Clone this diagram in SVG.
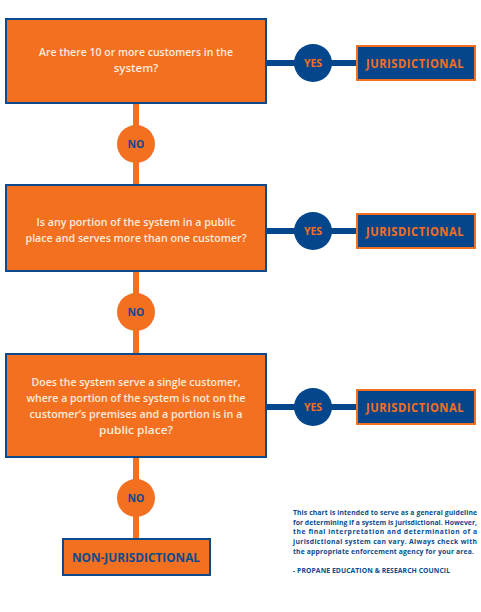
<svg xmlns="http://www.w3.org/2000/svg" width="481" height="612" viewBox="0 0 481 612">
<style>
.q{fill:#F37021;stroke:#0B4A8E;stroke-width:2}
.j{fill:#03468C;stroke:#F37021;stroke-width:2}
.nj{fill:#F37021;stroke:#0B4A8E;stroke-width:2}
.qt{font-family:"Open Sans","Liberation Sans",sans-serif;font-weight:600;font-size:11.5px;fill:#FDEBDD;text-anchor:middle}
.jt{font-family:"Open Sans","Liberation Sans",sans-serif;font-weight:700;font-size:13px;fill:#F37021;letter-spacing:0.6px}
.njt{font-family:"Open Sans","Liberation Sans",sans-serif;font-weight:700;font-size:13px;fill:#0B4A8E}
.yc{fill:#03468C}
.nc{fill:#F37021}
.yt{font-family:"Open Sans","Liberation Sans",sans-serif;font-weight:700;font-size:10.5px;fill:#F37021;text-anchor:middle}
.nt{font-family:"Open Sans","Liberation Sans",sans-serif;font-weight:700;font-size:10.5px;fill:#0B4A8E;text-anchor:middle}
.ft{font-family:"Open Sans","Liberation Sans",sans-serif;font-weight:700;font-size:6.8px;fill:#0B4A8E}
.vl{stroke:#F37021;stroke-width:6}
.hl{stroke:#03468C;stroke-width:6}
</style>
<rect width="481" height="612" fill="#FFFFFF"/>
<g id="connectors">
<line class="vl" x1="136" y1="103" x2="136" y2="185"/>
<line class="vl" x1="136" y1="271" x2="136" y2="353"/>
<line class="vl" x1="136" y1="457" x2="136" y2="539"/>
<line class="hl" x1="267" y1="63" x2="356" y2="63"/>
<line class="hl" x1="267" y1="231" x2="356" y2="231"/>
<line class="hl" x1="267" y1="407" x2="356" y2="407"/>
</g>
<g id="q1">
<rect class="q" x="6" y="19" width="260" height="84"/>
<text class="qt" x="136" y="56" textLength="194" lengthAdjust="spacingAndGlyphs">Are there 10 or more customers in the</text>
<text class="qt" x="136" y="72">system?</text>
</g>
<g id="q2">
<rect class="q" x="6" y="185" width="260" height="86"/>
<text class="qt" x="136" y="226" textLength="199" lengthAdjust="spacingAndGlyphs">Is any portion of the system in a public</text>
<text class="qt" x="136" y="242" textLength="221" lengthAdjust="spacingAndGlyphs">place and serves more than one customer?</text>
</g>
<g id="q3">
<rect class="q" x="6" y="354" width="260" height="103"/>
<text class="qt" x="136" y="386" textLength="209" lengthAdjust="spacingAndGlyphs">Does the system serve a single customer,</text>
<text class="qt" x="136" y="402" textLength="219" lengthAdjust="spacingAndGlyphs">where a portion of the system is not on the</text>
<text class="qt" x="136" y="418" textLength="213" lengthAdjust="spacingAndGlyphs">customer’s premises and a portion is in a</text>
<text class="qt" x="136" y="434" textLength="74" lengthAdjust="spacingAndGlyphs">public place?</text>
</g>
<g id="yes1"><circle class="yc" cx="313" cy="63" r="19"/><text class="yt" x="313" y="67">YES</text></g>
<g id="yes2"><circle class="yc" cx="313" cy="231" r="19"/><text class="yt" x="313" y="235">YES</text></g>
<g id="yes3"><circle class="yc" cx="313" cy="407" r="19"/><text class="yt" x="313" y="411">YES</text></g>
<g id="j1"><rect class="j" x="357" y="46" width="118" height="34"/><text class="jt" x="366" y="67.5" textLength="98" lengthAdjust="spacingAndGlyphs">JURISDICTIONAL</text></g>
<g id="j2"><rect class="j" x="357" y="214" width="118" height="34"/><text class="jt" x="366" y="235.5" textLength="98" lengthAdjust="spacingAndGlyphs">JURISDICTIONAL</text></g>
<g id="j3"><rect class="j" x="357" y="390" width="118" height="34"/><text class="jt" x="366" y="411.5" textLength="98" lengthAdjust="spacingAndGlyphs">JURISDICTIONAL</text></g>
<g id="no1"><circle class="nc" cx="136" cy="144" r="19"/><text class="nt" x="136" y="148">NO</text></g>
<g id="no2"><circle class="nc" cx="136" cy="312" r="19"/><text class="nt" x="136" y="316">NO</text></g>
<g id="no3"><circle class="nc" cx="136" cy="498" r="19"/><text class="nt" x="136" y="502">NO</text></g>
<g id="nonj"><rect class="nj" x="63" y="539" width="147" height="36"/><text class="njt" x="72" y="561.5" textLength="128" lengthAdjust="spacingAndGlyphs">NON-JURISDICTIONAL</text></g>
<g id="footnote">
<text class="ft" x="293" y="515" textLength="184" lengthAdjust="spacing">This chart is intended to serve as a general guideline</text>
<text class="ft" x="293" y="524.5" textLength="184" lengthAdjust="spacing">for determining if a system is jurisdictional. However,</text>
<text class="ft" x="293" y="534" textLength="184" lengthAdjust="spacing">the final interpretation and determination of a</text>
<text class="ft" x="293" y="544" textLength="184" lengthAdjust="spacing">jurisdictional system can vary. Always check with</text>
<text class="ft" x="293" y="553.5" textLength="181" lengthAdjust="spacing">the appropriate enforcement agency for your area.</text>
<text class="ft" x="293" y="573" textLength="157" lengthAdjust="spacing">- PROPANE EDUCATION &amp; RESEARCH COUNCIL</text>
</g>
</svg>
